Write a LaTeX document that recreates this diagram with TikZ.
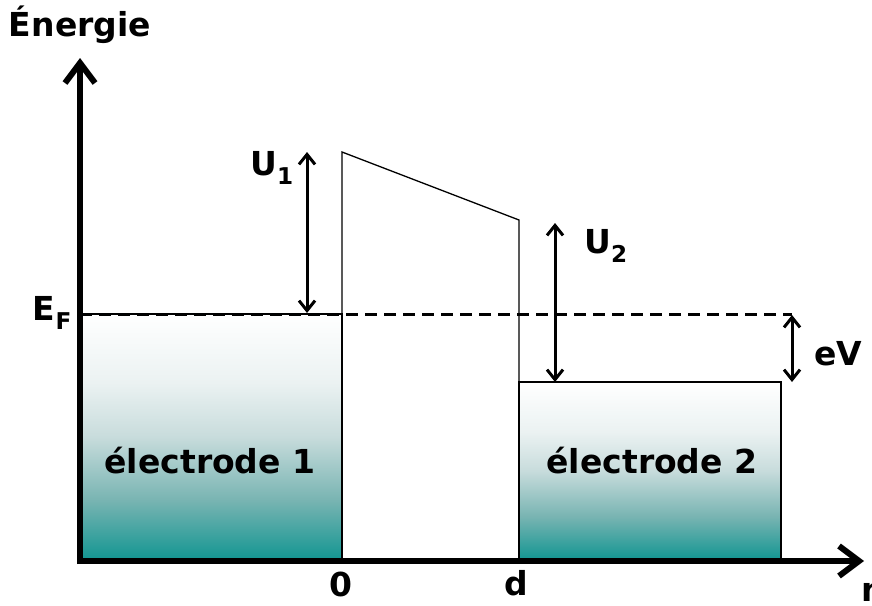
\documentclass[tikz,border=0pt]{standalone}
\usepackage{fontspec}
\setmainfont{DejaVu Sans}
\usetikzlibrary{arrows.meta}
\definecolor{teal1}{RGB}{20,150,146}
\definecolor{tealA}{RGB}{120,180,178}
\definecolor{tealmid}{RGB}{200,220,220}
\definecolor{tealB}{RGB}{235,242,242}
\pgfdeclareverticalshading{elecshade}{100bp}{color(0bp)=(teal1); color(25bp)=(teal1); color(37bp)=(tealA); color(50bp)=(tealmid); color(61bp)=(tealB); color(75bp)=(white); color(100bp)=(white)}
\tikzset{
  lbl/.style={font=\bfseries\fontsize{33}{33}\selectfont, inner sep=0pt},
  axis/.style={line width=6pt, -{Straight Barb[length=20pt,width=30pt]}},
  dim/.style={line width=3pt, {Straight Barb[length=10pt,width=16pt]}-{Straight Barb[length=10pt,width=16pt]}},
  elec/.style={draw=black, line width=1.3pt, shading=elecshade},
  fermi/.style={line width=3pt, dash pattern=on 12pt off 7pt},
}
\begin{document}
\begin{tikzpicture}[x=1pt,y=-1pt]
\useasboundingbox (0,0) rectangle (872,605);
% electrodes
\path[elec] (80,314) rectangle (342,559);
\path[elec] (519,382) rectangle (781,559);
% barrier
\coordinate (b0) at (342,559);
\coordinate (b1) at (342,152);
\coordinate (b2) at (519,220);
\coordinate (b3) at (519,382);
\draw[line width=1.3pt] (b0) -- (b1) -- (b2) -- (b3);
% fermi level
\coordinate (f0) at (80,314);
\coordinate (f1) at (792,314);
\draw[fermi] (f0) -- (f1);
% axes
\coordinate (ytip) at (80,58);
\coordinate (xtip) at (864,561);
\draw[axis] (80,564) -- (ytip);
\draw[axis] (77,561) -- (xtip);
% dimension arrows
\coordinate (u1a) at (307,152);
\coordinate (u1b) at (307,313);
\draw[dim] (u1a) -- (u1b);
\coordinate (u2a) at (555,223);
\coordinate (u2b) at (555,382);
\draw[dim] (u2a) -- (u2b);
\coordinate (eva) at (792,315);
\coordinate (evb) at (792,382);
\draw[dim] (eva) -- (evb);
% labels
\node[lbl] (en) at (80,25) {Énergie};
\node[lbl, anchor=east] (ef) at (72,313) {E\textsubscript{F}};
\node[lbl] (u1) at (272,168) {U\textsubscript{1}};
\node[lbl] (u2) at (606,246) {U\textsubscript{2}};
\node[lbl] (ev) at (838,354) {eV};
\node[lbl] (e1) at (210,461) {électrode 1};
\node[lbl] (e2) at (652,461) {électrode 2};
\node[lbl] (z) at (341,584) {0};
\node[lbl] (d) at (516,583) {d};
\node[lbl, anchor=west] (n) at (861,592) {n};
\end{tikzpicture}
\end{document}
